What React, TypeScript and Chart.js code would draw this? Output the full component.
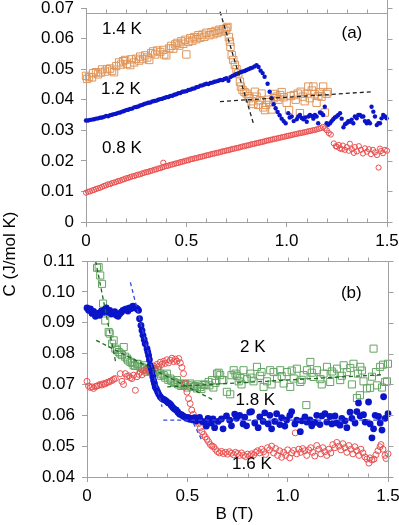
import React, { useEffect, useRef } from "react";
import { Chart, registerables } from "chart.js";
Chart.register(...registerables);

type P = [number, number];

const FONT = "'Liberation Sans', Arial, Helvetica, sans-serif";
const AXIS_COLOR = "#a0a0a0";
const ORANGE = "#e0965a";
const BLUE = "#0a14c8";
const RED = "#e85050";
const GREEN = "#64a464";
const DKGREEN = "#1f6b1f";
const DASHBLUE = "#3a44e0";

// ---------- Panel (a) ----------
const A_14K: P[] = [
  [0,.0478],[.005,.0468],[.015,.0474],[.03,.0473],[.035,.0487],[.05,.0490],[.06,.0483],[.075,.0489],[.08,.0499],[.095,.0492],
  [.105,.0500],[.12,.0502],[.13,.0495],[.14,.0490],[.15,.0510],[.165,.0522],[.175,.0515],[.185,.0526],[.195,.0530],[.205,.0517],
  [.22,.0513],[.225,.0532],[.24,.0522],[.25,.0534],[.265,.0528],[.27,.0541],[.285,.0533],[.295,.0545],[.305,.0538],[.315,.0530],
  [.325,.0552],[.335,.0558],[.345,.0548],[.355,.0561],[.37,.0556],[.385,.0563],[.39,.0548],[.40,.0545],[.415,.0568],[.425,.0576],
  [.435,.0567],[.445,.0581],[.455,.0586],[.465,.0577],[.475,.0591],[.485,.0583],[.495,.0596],[.50,.0548],[.51,.0589],[.52,.0601],
  [.53,.0593],[.54,.0605],[.55,.0598],[.56,.0611],[.57,.0603],[.58,.0613],[.59,.0606],[.60,.0619],[.615,.0611],[.625,.0621],
  [.635,.0614],[.645,.0625],[.655,.0618],[.665,.0629],[.675,.0623],[.685,.0631],[.695,.0626],[.70,.0634],[.705,.0638],
  [.712,.0605],[.717,.0590],[.72,.0573],[.726,.0546],[.734,.0530],[.742,.0514],[.75,.0500],[.759,.0486],[.767,.0459],[.772,.0443],
  [.78,.0432],[.79,.0425],[.80,.0420],[.81,.0412],[.814,.0405],[.825,.0395],[.834,.0386],[.842,.0426],[.85,.0410],[.858,.0383],
  [.866,.0398],[.875,.0420],[.883,.0375],[.892,.0366],[.897,.0383],[.905,.0400],[.913,.0392],[.925,.0368],[.935,.0405],[.942,.0419],
  [.95,.0410],[.958,.0400],[.967,.0415],[.975,.0425],[.985,.0408],[1.0,.0390],[1.012,.0366],[1.02,.0412],[1.036,.0415],[1.045,.0400],
  [1.055,.0420],[1.066,.0356],[1.07,.0426],[1.08,.0410],[1.09,.0395],[1.10,.0420],[1.108,.0443],[1.115,.0405],[1.125,.0430],[1.133,.0443],
  [1.14,.0418],[1.149,.0390],[1.158,.0412],[1.166,.0425],[1.174,.0410],[1.182,.0443],[1.19,.0358],[1.199,.0419],[1.205,.0425]
];

const A_12K: P[] = [
  [0,.0332],[.01,.0332],[.02,.0334],[.03,.0335],[.04,.0336],[.05,.0338],[.06,.0339],[.07,.0341],[.08,.0342],[.09,.0344],
  [.10,.0347],[.11,.0346],[.12,.0349],[.13,.0351],[.14,.0353],[.15,.0354],[.16,.0357],[.17,.0358],[.18,.0361],[.19,.0363],
  [.20,.0366],[.21,.0367],[.22,.0370],[.23,.0371],[.24,.0375],[.25,.0376],[.26,.0378],[.27,.0381],[.28,.0383],[.29,.0386],
  [.30,.0388],[.31,.0390],[.32,.0391],[.33,.0394],[.34,.0396],[.35,.0397],[.36,.0400],[.37,.0402],[.38,.0403],[.39,.0406],
  [.40,.0408],[.41,.0409],[.42,.0412],[.43,.0413],[.44,.0416],[.45,.0418],[.46,.0421],[.47,.0422],[.48,.0426],[.49,.0427],
  [.50,.0428],[.51,.0432],[.52,.0433],[.53,.0436],[.54,.0437],[.55,.0441],[.56,.0442],[.57,.0446],[.58,.0447],[.59,.0450],
  [.60,.0452],[.61,.0451],[.62,.0455],[.63,.0456],[.64,.0459],[.65,.0460],[.66,.0462],[.67,.0465],[.68,.0464],[.69,.0468],
  [.70,.0470],[.71,.0462],[.72,.0474],[.73,.0478],[.74,.0481],[.75,.0484],[.76,.0487],[.77,.0490],[.78,.0492],[.79,.0494],
  [.80,.0497],[.81,.0500],[.82,.0503],[.83,.0505],[.84,.0509],[.85,.0513],[.86,.0507],[.87,.0495],[.88,.0487],[.89,.0475],
  [.905,.0452],[.915,.0426],[.925,.0405],[.935,.0385],[.945,.0372],[.955,.0360],[.965,.0349],[.975,.0338],[.985,.0330],[.995,.0323],
  [1.008,.0356],[1.015,.0342],[1.025,.0345],[1.035,.0330],[1.05,.0336],[1.058,.0345],[1.066,.0350],[1.075,.0340],[1.083,.0336],[1.092,.0342],
  [1.10,.0328],[1.108,.0345],[1.116,.0350],[1.125,.0347],[1.133,.0338],[1.141,.0350],[1.149,.0345],[1.157,.0323],[1.166,.0358],[1.174,.0356],
  [1.182,.0350],[1.19,.0377],[1.199,.0323],[1.207,.0318],[1.216,.0323],[1.224,.0330],[1.232,.0336],[1.24,.0342],[1.249,.0345],[1.257,.0350],
  [1.266,.0356],[1.274,.0338],[1.283,.0310],[1.291,.0320],[1.299,.0323],[1.307,.0330],[1.315,.0328],[1.324,.0335],[1.332,.0323],[1.34,.0345],
  [1.349,.0339],[1.357,.0350],[1.365,.0350],[1.374,.0345],[1.382,.0345],[1.39,.0330],[1.399,.0323],[1.407,.0330],[1.415,.0323],[1.423,.0377],
  [1.432,.0361],[1.44,.0345],[1.449,.0317],[1.457,.0323],[1.465,.0323],[1.473,.0339],[1.481,.0350],[1.49,.0345],[1.498,.0339]
];

const A_08K: P[] = [
  [0,.0096],[.01,.0099],[.02,.0100],[.03,.0103],[.04,.0105],[.05,.0108],[.06,.0110],[.07,.0112],[.08,.0115],[.09,.0118],
  [.10,.0120],[.11,.0123],[.12,.0124],[.13,.0127],[.14,.0129],[.15,.0131],[.16,.0134],[.17,.0135],[.18,.0138],[.19,.0140],
  [.20,.0143],[.21,.0144],[.22,.0147],[.23,.0149],[.24,.0150],[.25,.0153],[.26,.0155],[.27,.0156],[.28,.0159],[.29,.0161],
  [.30,.0163],[.31,.0164],[.32,.0167],[.33,.0168],[.34,.0171],[.35,.0172],[.36,.0175],[.37,.0176],[.38,.0179],[.385,.0194],[.39,.0181],
  [.40,.0183],[.41,.0184],[.42,.0187],[.43,.0188],[.44,.0190],[.45,.0192],[.46,.0193],[.47,.0196],[.48,.0197],[.49,.0199],
  [.50,.0201],[.51,.0202],[.52,.0205],[.53,.0206],[.54,.0208],[.55,.0209],[.56,.0211],[.57,.0213],[.58,.0214],[.59,.0216],
  [.60,.0218],[.61,.0219],[.62,.0221],[.63,.0223],[.64,.0224],[.65,.0226],[.66,.0227],[.67,.0229],[.68,.0231],[.69,.0232],
  [.70,.0234],[.71,.0235],[.72,.0237],[.73,.0239],[.74,.0240],[.75,.0242],[.76,.0243],[.77,.0245],[.78,.0247],[.79,.0248],
  [.80,.0250],[.81,.0251],[.82,.0253],[.83,.0255],[.84,.0256],[.85,.0258],[.86,.0259],[.87,.0261],[.88,.0262],[.89,.0264],
  [.90,.0266],[.91,.0267],[.92,.0269],[.93,.0270],[.94,.0272],[.95,.0273],[.96,.0275],[.97,.0276],[.98,.0278],[.99,.0279],
  [1.00,.0281],[1.01,.0282],[1.02,.0284],[1.03,.0285],[1.04,.0287],[1.05,.0288],[1.06,.0290],[1.07,.0291],[1.08,.0292],[1.09,.0294],
  [1.10,.0295],[1.11,.0297],[1.12,.0298],[1.13,.0300],[1.14,.0301],[1.15,.0303],[1.16,.0305],[1.17,.0307],[1.18,.0311],[1.19,.0306],
  [1.20,.0300],[1.21,.0291],[1.22,.0286],[1.235,.0257],[1.245,.0248],[1.25,.0246],[1.26,.0252],[1.265,.0241],[1.275,.0238],[1.28,.0250],
  [1.29,.0236],[1.30,.0245],[1.31,.0233],[1.315,.0256],[1.325,.0238],[1.335,.0226],[1.34,.0245],[1.35,.0231],[1.36,.0248],[1.37,.0236],
  [1.38,.0224],[1.39,.0241],[1.40,.0230],[1.41,.0238],[1.42,.0222],[1.43,.0236],[1.44,.0228],[1.45,.0219],[1.458,.0178],[1.465,.0240],
  [1.47,.0232],[1.48,.0225],[1.49,.0236],[1.50,.0233]
];

const FIT_A_STEEP: P[] = [[0.668, 0.0688], [0.834, 0.0323]];
const FIT_A_FLAT: P[] = [[0.668, 0.0394], [1.423, 0.0426]];

// ---------- Panel (b) ----------
const B_2K: P[] = [
  [.050,.1078],[.058,.1080],[.066,.1053],[.075,.1026],[.080,.0962],[.091,.0907],[.100,.0935],[.108,.0870],[.113,.0865],[.125,.0832],
  [.133,.0843],[.141,.0816],[.150,.0812],[.158,.0805],[.166,.0800],[.174,.0795],[.183,.0821],[.190,.0790],[.199,.0784],[.205,.0778],
  [.216,.0773],[.225,.0770],[.232,.0762],[.240,.0760],[.249,.0767],[.255,.0765],[.266,.0757],[.275,.0755],[.282,.0751],[.290,.0762],
  [.299,.0746],[.310,.0752],[.315,.0743],[.320,.0740],[.332,.0751],[.340,.0740],[.349,.0746],[.355,.0745],[.365,.0735],[.370,.0728],
  [.382,.0730],[.390,.0722],[.398,.0735],[.405,.0715],[.415,.0719],[.420,.0712],[.432,.0708],[.440,.0705],[.448,.0714],[.455,.0700],
  [.465,.0703],[.470,.0695],[.482,.0698],[.490,.0702],[.500,.0690],[.515,.0703],[.520,.0697],[.532,.0692],[.540,.0695],[.548,.0687],
  [.555,.0700],[.565,.0692],[.570,.0685],[.581,.0698],[.590,.0700],[.606,.0708],[.610,.0697],[.623,.0714],[.630,.0690],[.640,.0705],
  [.648,.0735],[.656,.0738],[.664,.0730],[.673,.0714],[.680,.0714],[.697,.0676],[.714,.0668],[.720,.0730],[.731,.0746],[.740,.0735],
  [.748,.0728],[.756,.0710],[.764,.0721],[.770,.0700],[.780,.0746],[.797,.0717],[.814,.0735],[.820,.0722],[.830,.0710],[.847,.0757],
  [.863,.0728],[.870,.0740],[.880,.0692],[.897,.0710],[.913,.0746],[.920,.0700],[.930,.0740],[.947,.0719],[.963,.0746],[.970,.0727],
  [.980,.0703],[.996,.0740],[1.013,.0692],[1.020,.0745],[1.030,.0719],[1.046,.0751],[1.063,.0708],[1.070,.0715],[1.079,.0730],[1.093,.0633],
  [1.096,.0746],[1.113,.0773],[1.120,.0738],[1.129,.0724],[1.146,.0746],[1.163,.0717],[1.170,.0700],[1.179,.0735],[1.196,.0757],[1.212,.0708],
  [1.220,.0742],[1.229,.0735],[1.246,.0751],[1.262,.0714],[1.270,.0728],[1.279,.0762],[1.295,.0740],[1.312,.0753],[1.320,.0700],[1.328,.0767],
  [1.345,.0656],[1.350,.0735],[1.360,.0665],[1.362,.0757],[1.370,.0745],[1.378,.0710],[1.395,.0687],[1.411,.0689],[1.420,.0725],[1.428,.0816],
  [1.440,.0740],[1.445,.0697],[1.461,.0757],[1.470,.0690],[1.475,.0764],[1.486,.0708],[1.495,.0710],[1.500,.0767]
];

const B_18K: P[] = [
  [0,.0948],[.008,.0940],[.017,.0945],[.025,.0930],[.033,.0937],[.042,.0921],[.05,.0926],[.058,.0931],[.063,.0924],[.072,.0938],
  [.08,.0934],[.088,.0942],[.096,.0948],[.104,.0935],[.113,.0940],[.121,.0928],[.13,.0932],[.138,.0936],[.146,.0924],[.155,.0921],
  [.163,.0929],[.171,.0934],[.179,.0940],[.188,.0942],[.196,.0945],[.204,.0938],[.212,.0948],[.221,.0946],[.229,.0954],[.238,.0950],
  [.246,.0947],[.252,.0944],[.257,.0940],[.262,.0913],[.269,.0891],[.274,.0875],[.279,.0859],[.285,.0845],[.29,.0832],[.299,.0816],
  [.303,.0805],[.307,.0794],[.311,.0780],[.315,.0762],[.32,.0752],[.324,.0740],[.328,.0725],[.332,.0713],[.336,.0703],[.34,.0692],
  [.346,.0685],[.352,.0676],[.358,.0668],[.365,.0660],[.372,.0655],[.379,.0652],[.387,.0650],[.395,.0646],[.404,.0641],[.412,.0638],
  [.42,.0632],[.428,.0625],[.436,.0620],[.445,.0617],[.453,.0610],[.461,.0604],[.47,.0602],[.478,.0598],[.486,.0595],[.495,.0590],
  [.503,.0593],[.511,.0587],[.52,.0590],[.528,.0585],[.536,.0592],[.545,.0582],[.553,.0588],[.561,.0593],[.575,.0580],[.586,.0578],
  [.595,.0565],[.603,.0590],[.62,.0575],[.628,.0588],[.636,.0560],[.653,.0580],[.67,.0588],[.678,.0556],[.695,.0598],[.711,.0584],
  [.72,.0566],[.736,.0604],[.745,.0590],[.761,.0600],[.778,.0572],[.786,.0594],[.795,.0566],[.811,.0610],[.82,.0612],[.836,.0575],
  [.853,.0560],[.861,.0595],[.878,.0580],[.886,.0608],[.903,.0572],[.911,.0600],[.92,.0556],[.936,.0580],[.945,.0605],[.961,.0570],
  [.97,.0592],[.986,.0565],[.995,.0585],[1.011,.0600],[1.02,.0612],[1.036,.0572],[1.045,.0584],[1.063,.0547],[1.07,.0582],[1.086,.0595],
  [1.095,.0578],[1.111,.0585],[1.12,.0566],[1.136,.0577],[1.145,.0600],[1.161,.0570],[1.17,.0598],[1.186,.0605],[1.195,.0578],[1.211,.0596],
  [1.22,.0572],[1.236,.0598],[1.245,.0575],[1.261,.0568],[1.27,.0590],[1.286,.0582],[1.295,.0560],[1.311,.0610],[1.32,.0590],[1.336,.0575],
  [1.345,.0612],[1.353,.0640],[1.361,.0598],[1.378,.0602],[1.386,.0578],[1.403,.0643],[1.411,.0572],[1.42,.0527],[1.428,.0556],[1.436,.0600],
  [1.453,.0596],[1.461,.0575],[1.47,.0552],[1.478,.0660],[1.486,.0590],[1.5,.0605]
];

const B_16K: P[] = [
  [0,.0710],[.008,.0695],[.017,.0690],[.025,.0692],[.033,.0687],[.042,.0693],[.05,.0695],[.058,.0697],[.066,.0700],[.075,.0698],
  [.083,.0703],[.091,.0702],[.1,.0706],[.108,.0708],[.116,.0710],[.125,.0713],[.133,.0717],[.141,.0719],[.166,.0735],[.174,.0710],
  [.182,.0700],[.191,.0735],[.199,.0726],[.208,.0728],[.216,.0722],[.224,.0719],[.232,.0730],[.241,.0681],[.249,.0725],[.257,.0733],
  [.266,.0740],[.274,.0731],[.282,.0745],[.291,.0738],[.299,.0750],[.307,.0744],[.315,.0755],[.324,.0748],[.332,.0760],[.34,.0752],
  [.349,.0765],[.357,.0758],[.365,.0772],[.373,.0765],[.382,.0775],[.39,.0768],[.398,.0780],[.407,.0770],[.415,.0778],[.423,.0785],
  [.432,.0774],[.44,.0782],[.448,.0775],[.457,.0784],[.465,.0770],[.473,.0755],[.481,.0735],[.49,.0705],[.498,.0675],[.506,.0654],
  [.514,.0638],[.522,.0617],[.53,.0603],[.539,.0590],[.548,.0580],[.556,.0573],[.565,.0560],[.573,.0547],[.581,.0538],[.589,.0530],
  [.598,.0522],[.606,.0514],[.615,.0505],[.623,.0500],[.631,.0498],[.64,.0490],[.65,.0482],[.66,.0478],[.67,.0483],[.68,.0476],
  [.69,.0480],[.70,.0474],[.71,.0482],[.72,.0477],[.73,.0472],[.74,.0480],[.75,.0476],[.76,.0470],[.77,.0478],[.78,.0470],
  [.79,.0466],[.80,.0474],[.81,.0468],[.82,.0475],[.83,.0471],[.84,.0480],[.85,.0485],[.86,.0478],[.87,.0490],[.88,.0482],
  [.89,.0473],[.90,.0495],[.91,.0488],[.92,.0500],[.93,.0478],[.94,.0492],[.95,.0470],[.96,.0485],[.97,.0464],[.98,.0480],
  [.99,.0470],[1.00,.0488],[1.01,.0462],[1.02,.0478],[1.03,.0486],[1.038,.0543],[1.045,.0475],[1.055,.0490],[1.065,.0480],[1.075,.0492],
  [1.085,.0485],[1.095,.0470],[1.105,.0488],[1.115,.0495],[1.125,.0480],[1.135,.0468],[1.145,.0502],[1.155,.0490],[1.165,.0475],[1.175,.0495],
  [1.185,.0482],[1.195,.0470],[1.205,.0490],[1.215,.0478],[1.225,.0505],[1.235,.0495],[1.245,.0512],[1.255,.0500],[1.265,.0488],[1.275,.0508],
  [1.285,.0495],[1.295,.0480],[1.305,.0502],[1.315,.0490],[1.325,.0475],[1.335,.0498],[1.345,.0485],[1.355,.0470],[1.365,.0490],[1.375,.0478],
  [1.385,.0465],[1.395,.0458],[1.405,.0445],[1.41,.0462],[1.42,.0455],[1.43,.0458],[1.44,.0472],[1.45,.0485],[1.46,.0498],[1.465,.0505],
  [1.475,.0490],[1.485,.0470],[1.49,.0460],[1.5,.0475]
];

const FIT_B_G_STEEP: P[] = [[0.043, 0.110], [0.142, 0.0775]];
const FIT_B_G_MID: P[] = [[0.046, 0.0843], [0.631, 0.0649]];
const FIT_B_G_FLAT: P[] = [[0.40, 0.0692], [1.48, 0.0732]];
const FIT_B_B_STEEP: P[] = [[0.216, 0.1031], [0.374, 0.0627]];
const FIT_B_B_LOW: P[] = [[0.53, 0.0575], [0.57, 0.0522]];
const FIT_B_B_FLAT: P[] = [[0.38, 0.0584], [1.5, 0.0584]];

// tick positions
const MINOR_X_TOP = [0.1,0.2,0.3,0.4,0.5,0.6,0.7,0.8,0.9,1.0,1.1,1.2,1.3,1.4];
const MINOR_X_BOTTOM = [0.1,0.2,0.3,0.4,0.6,0.7,0.8,0.9,1.1,1.2,1.3,1.4];

type Lbl = { text: string; x: number; y: number };
const LABELS_A: Lbl[] = [
  { text: "1.4 K", x: 0.179, y: 0.0631 },
  { text: "1.2 K", x: 0.174, y: 0.0435 },
  { text: "0.8 K", x: 0.179, y: 0.0242 },
  { text: "(a)", x: 1.325, y: 0.0618 },
];
const LABELS_B: Lbl[] = [
  { text: "(b)", x: 1.317, y: 0.0995 },
  { text: "2 K", x: 0.826, y: 0.0821 },
  { text: "1.8 K", x: 0.839, y: 0.0649 },
  { text: "1.6 K", x: 0.822, y: 0.0442 },
];

const toXY = (p: P[]) => p.map(([x, y]) => ({ x, y }));

const fitLine = (p: P[], color: string) => ({
  data: toXY(p), showLine: true, borderColor: color, borderWidth: 1.3, borderDash: [4, 3],
  pointRadius: 0, clip: false,
});
const hollow = (p: P[], color: string, style: string, r: number) => ({
  data: toXY(p), showLine: false, pointStyle: style, pointRadius: r,
  pointBorderColor: color, pointBackgroundColor: "rgba(0,0,0,0)", pointBorderWidth: 1, clip: false,
});
const filled = (p: P[], color: string, r: number) => ({
  data: toXY(p), showLine: false, pointStyle: "circle", pointRadius: r,
  pointBorderColor: color, pointBackgroundColor: color, pointBorderWidth: 0, clip: false,
});

const tickFont = { family: FONT, size: 17 };

const xScale = (h: number) => ({
  type: "linear", min: 0, max: 1.5,
  ticks: { stepSize: 0.5, font: tickFont, color: "#000", padding: 4, maxRotation: 0, autoSkip: false },
  grid: { display: true, drawOnChartArea: false, drawTicks: true, tickLength: 5, color: AXIS_COLOR },
  border: { display: true, color: AXIS_COLOR },
  afterFit(s: any) { s.height = h; s.paddingLeft = 0; s.paddingRight = 0; },
});
const yScale = (min: number, max: number, w: number) => ({
  type: "linear", min, max,
  ticks: { stepSize: 0.01, font: tickFont, color: "#000", padding: 7, autoSkip: false },
  grid: { display: true, drawOnChartArea: false, drawTicks: true, tickLength: 5, color: AXIS_COLOR },
  border: { display: true, color: AXIS_COLOR },
  afterFit(s: any) { s.width = w; s.paddingTop = 0; s.paddingBottom = 0; },
});

function framePlugin(o: { labels: Lbl[]; topShift: number; rightTop: number | null; titles: boolean }) {
  return {
    id: "frame",
    afterDraw(chart: any) {
      const { ctx, chartArea: a } = chart;
      const xs = chart.scales.x, ys = chart.scales.y;
      const R = Math.round(a.right) + 0.5;
      const L = Math.round(a.left) + 0.5;
      const T = Math.round(a.top + o.topShift) + 0.5;
      const Bt = Math.round(a.bottom) + 0.5;
      ctx.save();
      ctx.strokeStyle = AXIS_COLOR;
      ctx.lineWidth = 1;
      ctx.beginPath();
      ctx.moveTo(R, o.rightTop ?? T); ctx.lineTo(R, Bt);
      ctx.moveTo(L, T); ctx.lineTo(R, T);
      ys.ticks.forEach((t: any) => {
        const py = Math.round(ys.getPixelForValue(t.value)) + 0.5;
        ctx.moveTo(R, py); ctx.lineTo(R + 5, py);
      });
      MINOR_X_TOP.forEach((v) => {
        const px = Math.round(xs.getPixelForValue(v)) + 0.5;
        ctx.moveTo(px, T); ctx.lineTo(px, T - 4);
      });
      MINOR_X_BOTTOM.forEach((v) => {
        const px = Math.round(xs.getPixelForValue(v)) + 0.5;
        ctx.moveTo(px, Bt); ctx.lineTo(px, Bt - 4);
      });
      ctx.stroke();
      ctx.fillStyle = "#000";
      ctx.font = `17px ${FONT}`;
      ctx.textAlign = "center";
      ctx.textBaseline = "middle";
      o.labels.forEach((l) => ctx.fillText(l.text, xs.getPixelForValue(l.x), ys.getPixelForValue(l.y)));
      if (o.titles) {
        ctx.fillText("B (T)", (a.left + a.right) / 2 - 3, a.bottom + 37);
        ctx.save();
        ctx.translate(10, 254);
        ctx.rotate(-Math.PI / 2);
        ctx.fillText("C (J/mol K)", 0, 0);
        ctx.restore();
      }
      ctx.restore();
    },
  };
}

const baseOptions = (padding: any, ymin: number, ymax: number, yw: number, xh: number) => ({
  responsive: false,
  animation: false,
  events: [],
  layout: { padding },
  plugins: { legend: { display: false }, tooltip: { enabled: false }, title: { display: false } },
  scales: { x: xScale(xh), y: yScale(ymin, ymax, yw) },
});

export default function App() {
  const topRef = useRef<HTMLCanvasElement | null>(null);
  const botRef = useRef<HTMLCanvasElement | null>(null);

  useEffect(() => {
    const cA = new Chart(topRef.current as HTMLCanvasElement, {
      type: "scatter",
      data: {
        datasets: [
          fitLine(FIT_A_STEEP, "#222"),
          fitLine(FIT_A_FLAT, "#222"),
          filled(A_12K, BLUE, 2.2),
          hollow(A_14K, ORANGE, "rect", 5.2),
          hollow(A_08K, RED, "circle", 2.6),
        ] as any,
      },
      options: baseOptions({ left: 0, right: 12, top: 8, bottom: 275 }, 0, 0.07, 86, 28) as any,
      plugins: [framePlugin({ labels: LABELS_A, topShift: 5, rightTop: 0, titles: false })],
    });
    const cB = new Chart(botRef.current as HTMLCanvasElement, {
      type: "scatter",
      data: {
        datasets: [
          fitLine(FIT_B_B_STEEP, DASHBLUE),
          fitLine(FIT_B_B_LOW, DASHBLUE),
          fitLine(FIT_B_B_FLAT, DASHBLUE),
          fitLine(FIT_B_G_STEEP, DKGREEN),
          fitLine(FIT_B_G_MID, DKGREEN),
          fitLine(FIT_B_G_FLAT, DKGREEN),
          filled(B_18K, BLUE, 3.4),
          hollow(B_16K, RED, "circle", 3),
          hollow(B_2K, GREEN, "rect", 5),
        ] as any,
      },
      options: baseOptions({ left: 0, right: 11, top: 261, bottom: 0 }, 0.04, 0.11, 87, 48) as any,
      plugins: [framePlugin({ labels: LABELS_B, topShift: 0, rightTop: null, titles: true })],
    });
    return () => {
      cA.destroy();
      cB.destroy();
    };
  }, []);

  return (
    <div style={{ position: "absolute", left: 0, top: 0, width: 399, height: 525, background: "#fff" }}>
      <canvas ref={botRef} width={399} height={525} style={{ position: "absolute", left: 0, top: 0 }} />
      <canvas ref={topRef} width={399} height={525} style={{ position: "absolute", left: 0, top: 0 }} />
    </div>
  );
}
